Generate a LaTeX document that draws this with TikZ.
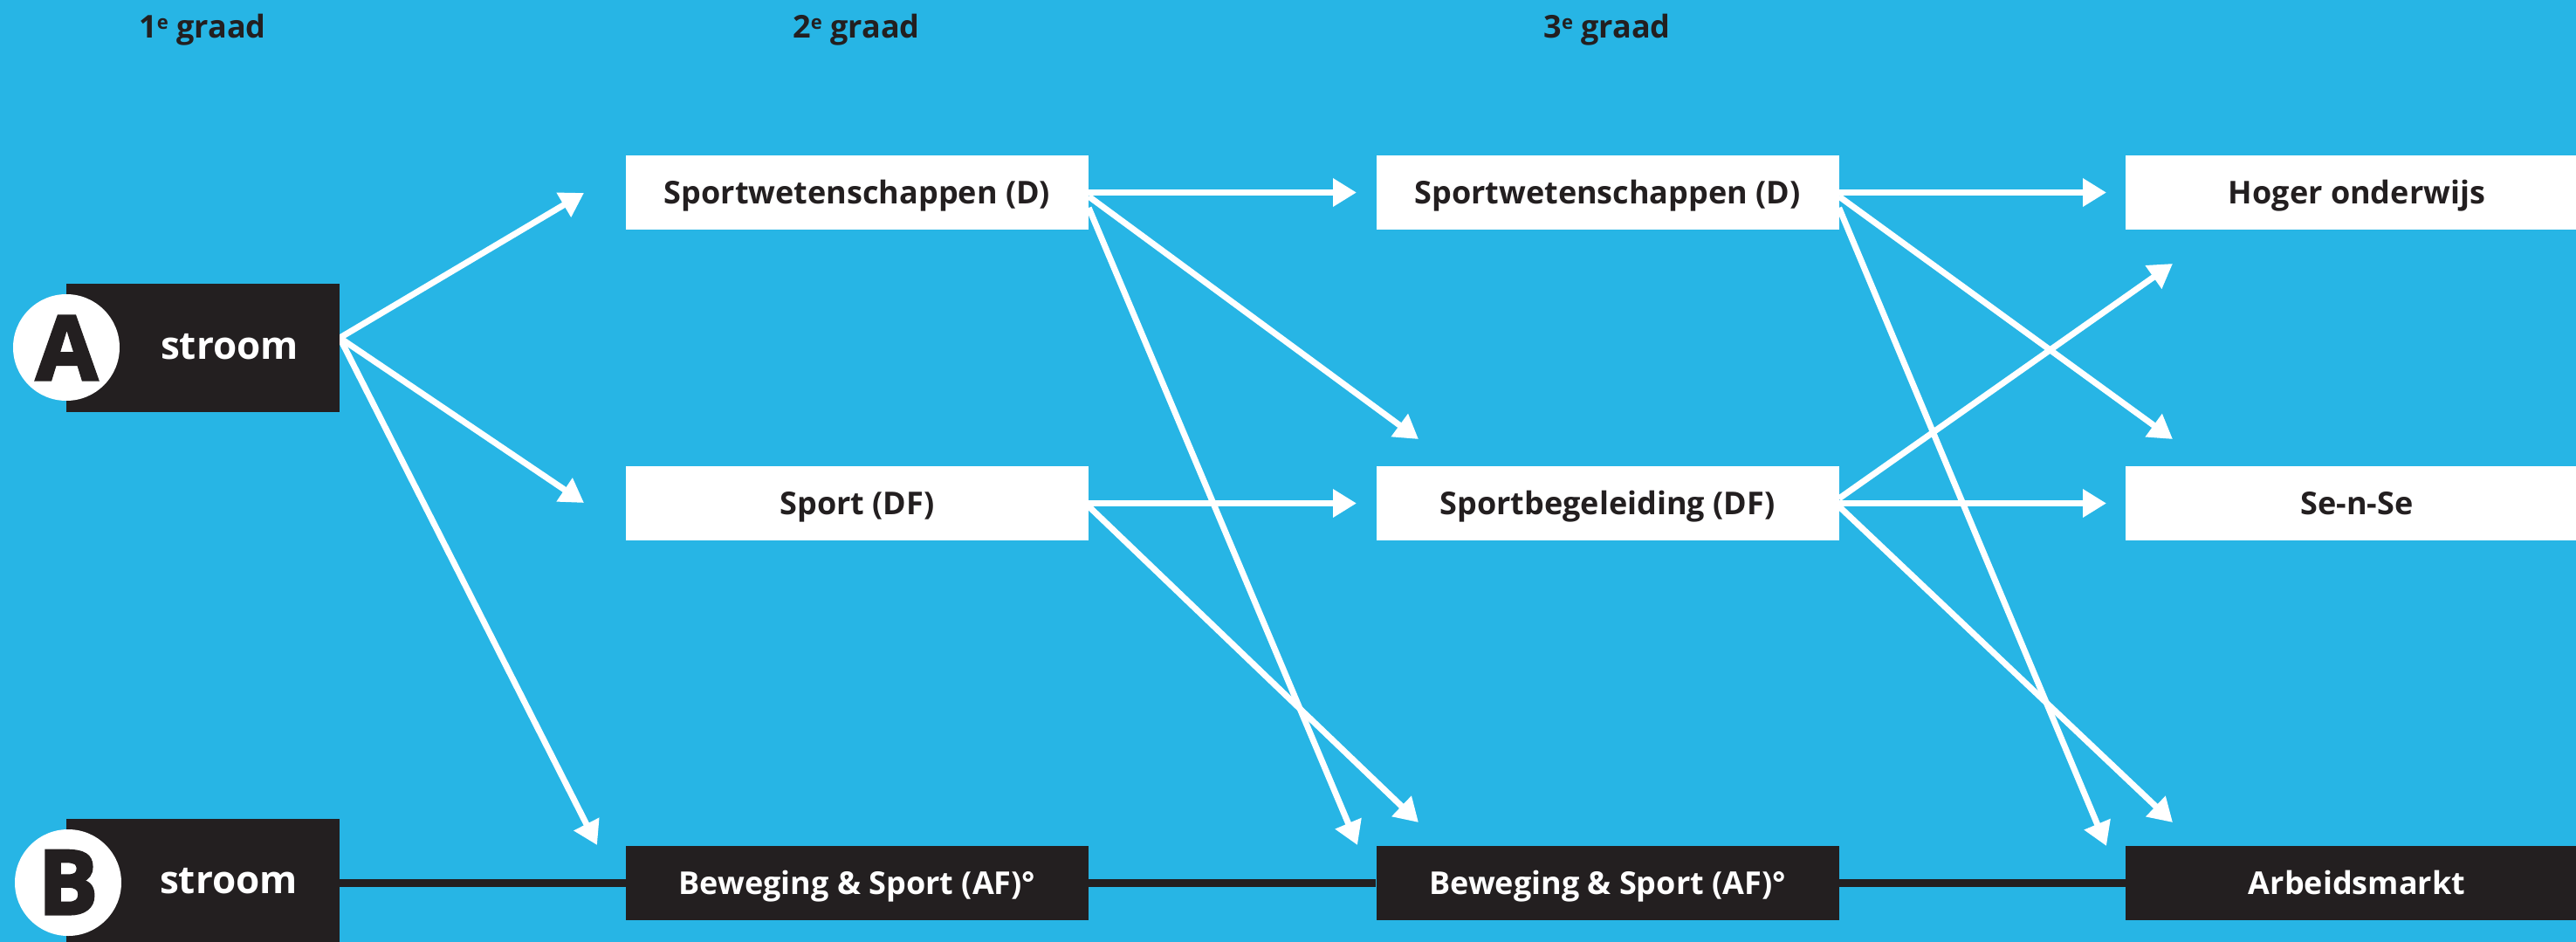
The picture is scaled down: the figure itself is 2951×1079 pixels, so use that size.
\documentclass[tikz,border=0pt]{standalone}
\usepackage{fontspec}
\setmainfont{Open Sans}
\newfontfamily\heavyfont{Open Sans}[BoldFeatures={FakeBold=3}]
\usetikzlibrary{arrows.meta,calc}
\definecolor{bgc}{HTML}{27B5E5}
\definecolor{ink}{HTML}{231F20}
\pgfdeclarelayer{back}
\pgfdeclarelayer{arr}
\pgfsetlayers{back,arr,main}
\newcommand\hdrsup[1]{{\fontsize{22}{22}\selectfont\raisebox{10pt}{#1}}}
\begin{document}
\begin{tikzpicture}[x=1pt,y=-1pt,
  lab/.style={font=\fontsize{36}{40}\selectfont\bfseries},
  hdr/.style={lab, text=ink, anchor=base, inner sep=0pt},
  wbox/.style={lab, fill=white, text=ink, minimum width=530pt, minimum height=85pt,
     inner sep=0pt, text height=25pt, text depth=0pt},
  kbox/.style={wbox, fill=ink, text=white},
  sbox/.style={fill=ink, minimum width=313pt, minimum height=147pt, inner sep=0pt},
  scirc/.style={circle, fill=white, minimum size=122pt, inner sep=0pt},
  sletter/.style={font=\heavyfont\fontsize{102}{102}\selectfont\bfseries, text=ink, anchor=base, inner sep=0pt},
  sword/.style={font=\fontsize{44}{48}\selectfont\bfseries, text=white, anchor=base, inner sep=0pt},
  flow/.style={draw=white, line width=7pt, -{Triangle[length=27pt,width=31pt]}},
  track/.style={draw=ink, line width=9pt}]
\useasboundingbox (0,0) rectangle (2951,1079);
\clip (0,0) rectangle (2951,1079);
\begin{pgfonlayer}{back}
\fill[bgc] (0,0) rectangle (2951,1079);
\end{pgfonlayer}

% headers
\node[hdr] (h1) at (232,43) {1\hdrsup{e} graad};
\node[hdr] (h2) at (981,43) {2\hdrsup{e} graad};
\node[hdr] (h3) at (1841,43) {3\hdrsup{e} graad};

% streams
\node[sbox] (astr) at (232.5,398.5) {};
\node[scirc] (acirc) at (76,398) {};
\node[sletter] (alet) at (76.5,435) {A};
\node[sword] (aword) at (263,411) {stroom};

\node[sbox] (bstr) at (232.5,1011.5) {};
\node[scirc] (bcirc) at (78,1011) {};
\node[sletter] (blet) at (78,1047) {B};
\node[sword] (bword) at (262,1023.5) {stroom};

% boxes
\node[wbox] (sw2) at (982,220.5) {Sportwetenschappen (D)};
\node[wbox] (sp2) at (982,576.5) {Sport (DF)};
\node[kbox] (bew2) at (982,1011.5) {Beweging \& Sport (AF)°};
\node[wbox] (sw3) at (1841.5,220.5) {Sportwetenschappen (D)};
\node[wbox] (sb3) at (1841.5,576.5) {Sportbegeleiding (DF)};
\node[kbox] (bew3) at (1841.5,1011.5) {Beweging \& Sport (AF)°};
\node[wbox] (ho) at (2700,220.5) {Hoger onderwijs};
\node[wbox] (sns) at (2700,576.5) {Se-n-Se};
\node[kbox] (arb) at (2700,1011.5) {Arbeidsmarkt};

% arrow ends
\coordinate (t1) at (669,221);
\coordinate (t2) at (669,576);
\coordinate (t3) at (684,968);
\coordinate (t4) at (1554,220.5);
\coordinate (t5) at (1625,503);
\coordinate (t6) at (1555,968);
\coordinate (t7) at (1554,576.5);
\coordinate (t8) at (1625,942);
\coordinate (t9) at (2413,220.5);
\coordinate (t10) at (2489,503);
\coordinate (t11) at (2413,969);
\coordinate (t12) at (2489,302);
\coordinate (t13) at (2413,576.5);
\coordinate (t14) at (2489,942);

\begin{pgfonlayer}{arr}
\draw[track] (bstr) -- (bew2) -- (bew3) -- (arb);
\draw[flow] ($(astr.east)+(0,-11.5)$) -- (t1);
\draw[flow] ($(astr.east)+(0,-11.5)$) -- (t2);
\draw[flow] ($(astr.east)+(0,-11.5)$) -- (t3);
\draw[flow] (sw2.east) -- (t4);
\draw[flow] ($(sw2.east)+(0,4.5)$) -- (t5);
\draw[flow] ($(sw2.east)+(0,17.5)$) -- (t6);
\draw[flow] (sp2.east) -- (t7);
\draw[flow] ($(sp2.east)+(0,3.5)$) -- (t8);
\draw[flow] (sw3.east) -- (t9);
\draw[flow] ($(sw3.east)+(0,4.5)$) -- (t10);
\draw[flow] ($(sw3.east)+(0,17.5)$) -- (t11);
\draw[flow] ($(sb3.east)+(0,-5.5)$) -- (t12);
\draw[flow] (sb3.east) -- (t13);
\draw[flow] ($(sb3.east)+(0,3.5)$) -- (t14);
\end{pgfonlayer}
\end{tikzpicture}
\end{document}
